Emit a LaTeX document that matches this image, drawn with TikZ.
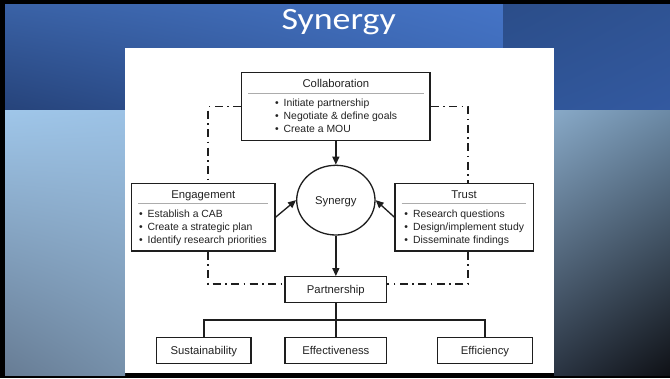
\documentclass[tikz,border=0pt]{standalone}
\usepackage{fontspec}
\setmainfont{Liberation Sans}
\newfontfamily\titlefont{Carlito}
\usetikzlibrary{shapes.geometric,arrows.meta,shadings}
\definecolor{bandTL}{HTML}{3A62A6}
\definecolor{bandTR}{HTML}{4574C6}
\definecolor{bandBL}{HTML}{26437A}
\definecolor{bandBR}{HTML}{3A66B2}
\definecolor{rbTL}{HTML}{2B4D89}
\definecolor{rbTR}{HTML}{2F5393}
\definecolor{rbBL}{HTML}{2F5597}
\definecolor{rbBR}{HTML}{3359A0}
\definecolor{llTL}{HTML}{9FC6E9}
\definecolor{llTR}{HTML}{9CC2E5}
\definecolor{llBL}{HTML}{677C94}
\definecolor{llBR}{HTML}{7690AA}
\definecolor{lrTL}{HTML}{88A9C7}
\definecolor{lrTR}{HTML}{6C8AA6}
\definecolor{lrBL}{HTML}{2A3442}
\definecolor{lrBR}{HTML}{0F1116}
\definecolor{linec}{HTML}{1E1E1E}
\definecolor{textc}{HTML}{222222}
\newcommand\mybul{•\hspace{5pt}}
\begin{document}
\begin{tikzpicture}[x=1pt,y=-1pt,
  bigbox/.style={draw=linec, line width=1.3pt, fill=white, inner sep=0pt},
  box/.style={draw=linec, line width=1.3pt, fill=white, inner sep=0pt, minimum height=26pt,
    text height=8.1pt, text depth=0pt, font=\fontsize{11.3}{13}\selectfont, text=textc},
  ttl/.style={anchor=base, inner sep=0pt, font=\fontsize{11.3}{13}\selectfont, text=textc},
  bul/.style={anchor=base west, inner sep=0pt, font=\fontsize{10.4}{13}\selectfont, text=textc},
  sepline/.style={draw=gray!65, line width=0.9pt},
  arr/.style={draw=linec, line width=1.3pt, -{Triangle[length=8pt,width=7pt]}},
  conn/.style={draw=linec, line width=1.3pt},
  dd/.style={draw=linec, line width=1.5pt, dash pattern=on 8pt off 4.5pt on 1.5pt off 4.5pt}
]
\useasboundingbox (0,0) rectangle (670,378);
% background
\fill[black] (0,0) rectangle (670,378);
\shade[upper left=bandTL, upper right=bandTR, lower left=bandBL, lower right=bandBR] (5,4) rectangle (503,110);
\shade[upper left=rbTL, upper right=rbTR, lower left=rbBL, lower right=rbBR] (503,4) rectangle (670,110);
\shade[upper left=llTL, upper right=llTR, lower left=llBL, lower right=llBR] (5,110) rectangle (125,375);
\shade[upper left=lrTL, upper right=lrTR, lower left=lrBL, lower right=lrBR] (554,110) rectangle (670,375);
\fill[white] (125,48) rectangle (554,373);
% title
\node[anchor=base, inner sep=0pt, text=white, font=\titlefont\fontsize{31}{36}\selectfont] (title) at (338.7,29.3) {\scalebox{1.16}[1]{Synergy}};

% coordinates for dash-dot loop
\coordinate (cTL) at (208,106.7);
\coordinate (cTR) at (468,106.7);
\coordinate (cBL) at (208,284);
\coordinate (cBR) at (468,284);

% boxes
\node[bigbox, minimum width=188.3pt, minimum height=68.4pt] (collab) at (335.85,106.5) {};
\node[bigbox, minimum width=143.3pt, minimum height=67.7pt] (eng) at (203.35,217.15) {};
\node[bigbox, minimum width=138.3pt, minimum height=67.7pt] (trust) at (464.15,217.15) {};
\node[ellipse, draw=linec, line width=1.3pt, fill=white, minimum width=78.3pt, minimum height=69.7pt, inner sep=0pt,
  text height=8.1pt, text depth=0pt, font=\fontsize{11.3}{13}\selectfont, text=textc] (syn) at (335.85,200.15) {Synergy};
\node[box, minimum width=101.7pt] (part) at (335.85,289.7) {Partnership};
\node[box, minimum width=94.3pt] (sust) at (203.85,350.3) {Sustainability};
\node[box, minimum width=101.7pt] (eff) at (335.85,350.3) {Effectiveness};
\node[box, minimum width=94.6pt] (effic) at (485,350.3) {Efficiency};

% collaboration content
\node[ttl] (collabT) at (335.85,87.8) {Collaboration};
\draw[sepline] (248,93.3) -- (424,93.3);
\node[bul] (c1) at (274.9,106.7) {\mybul Initiate partnership};
\node[bul] (c2) at (274.9,119.7) {\mybul Negotiate \& define goals};
\node[bul] (c3) at (274.9,132.7) {\mybul Create a MOU};

% engagement content
\node[ttl] (engT) at (203.35,198.3) {Engagement};
\draw[sepline] (138,203.3) -- (268,203.3);
\node[bul] (e1) at (138.9,217.2) {\mybul Establish a CAB};
\node[bul] (e2) at (138.9,230.2) {\mybul Create a strategic plan};
\node[bul] (e3) at (138.9,243.2) {\mybul Identify research priorities};

% trust content
\node[ttl] (trustT) at (464.15,198.3) {Trust};
\draw[sepline] (401.7,203.3) -- (526,203.3);
\node[bul] (t1) at (404.2,217.2) {\mybul Research questions};
\node[bul] (t2) at (404.2,230.2) {\mybul Design/implement study};
\node[bul] (t3) at (404.2,243.2) {\mybul Disseminate findings};

% arrows
\draw[arr] (collab.south) -- (syn.north);
\draw[arr] (eng.east) -- (syn.west);
\draw[arr] (trust.west) -- (syn.east);
\draw[arr] (syn.south) -- (part.north);

% tree
\coordinate (bus) at (335.85,320);
\draw[conn] (part.south) -- (bus);
\draw[conn] (sust.north) |- (bus) -| (effic.north);
\draw[conn] (bus) -- (eff.north);

% dash-dot loop
\draw[dd] (collab.west |- cTL) -- (cTL) -- (cTL |- eng.north);
\draw[dd] (cTL |- eng.south) -- (cBL) -- (part.west |- cBL);
\draw[dd] (collab.east |- cTR) -- (cTR) -- (cTR |- trust.north);
\draw[dd] (cTR |- trust.south) -- (cBR) -- (part.east |- cBR);
\end{tikzpicture}
\end{document}
